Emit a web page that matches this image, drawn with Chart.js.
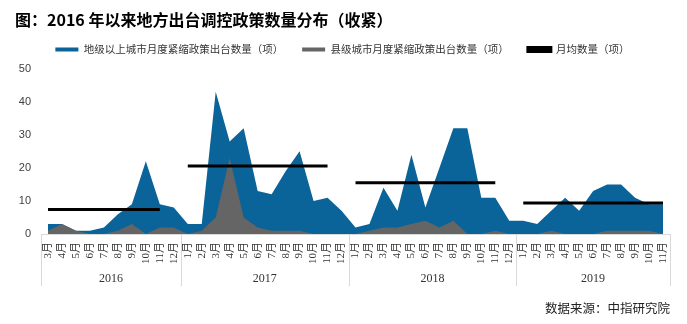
<!DOCTYPE html>
<html>
<head>
<meta charset="utf-8">
<script src="https://cdn.jsdelivr.net/npm/chart.js@4/dist/chart.umd.min.js"></script>
<style>
  html, body { margin: 0; padding: 0; background: #fff; }
  #wrap { width: 687px; height: 324px; }
</style>
</head>
<body>
<div id="wrap"><canvas id="chart" width="687" height="324"></canvas></div>
<script>
// années et mois (axe x à deux niveaux)
const years = ['2016', '2017', '2018', '2019'];
const monthsByYear = [
    ['3月', '4月', '5月', '6月', '7月', '8月', '9月', '10月', '11月', '12月'],
    ['1月', '2月', '3月', '4月', '5月', '6月', '7月', '8月', '9月', '10月', '11月', '12月'],
    ['1月', '2月', '3月', '4月', '5月', '6月', '7月', '8月', '9月', '10月', '11月', '12月'],
    ['1月', '2月', '3月', '4月', '5月', '6月', '7月', '8月', '9月', '10月', '11月']
];

// 地级以上城市
const cityCounts = [
    3, 3, 1, 1, 2, 6, 9, 22, 9, 8,
    3, 3, 43, 28, 32, 13, 12, 19, 25, 10, 11, 7,
    2, 3, 14, 7, 24, 8, 20, 32, 32, 11, 11, 4,
    4, 3, 7, 11, 7, 13, 15, 15, 11, 9, 9
];
// 县级城市
const countyCounts = [
    1, 3, 1, 0, 0, 1, 3, 0, 2, 2,
    0, 1, 5, 23, 5, 2, 1, 1, 1, 0, 0, 0,
    0, 1, 2, 2, 3, 4, 2, 4, 0, 0, 1, 0,
    0, 0, 1, 0, 0, 0, 1, 1, 1, 1, 0
];
// moyenne mensuelle par année
const yearAvg = [7.4, 20.6, 15.5, 9.4];

const yTicks = [0, 10, 20, 30, 40, 50];

const labels = monthsByYear.flat();
const yearOf = monthsByYear.flatMap((m, k) => m.map(() => k));
// la ligne de moyenne s'arrête en novembre
const avgLine = labels.map((m, i) => m === '12月' ? null : yearAvg[yearOf[i]]);

const BLUE = '#0a6399';
const GREY = '#656565';
const cjk = "'Noto Sans CJK SC', sans-serif";
const serif = "'Liberation Serif', 'Noto Sans CJK SC', serif";

// années sous les mois + traits de séparation
const yearAxis = {
    id: 'yearAxis',
    afterDraw(chart) {
        const { ctx, chartArea } = chart;
        const x = chart.scales.x;
        const half = (x.getPixelForValue(1) - x.getPixelForValue(0)) / 2;
        const top = chartArea.bottom;
        ctx.save();
        ctx.strokeStyle = '#d9d9d9';
        ctx.lineWidth = 1;
        ctx.fillStyle = '#333';
        ctx.font = '12px ' + serif;
        ctx.textAlign = 'center';
        ctx.textBaseline = 'middle';
        let start = 0;
        years.forEach((yr, k) => {
            const n = monthsByYear[k].length;
            const l = x.getPixelForValue(start) - half;
            const r = x.getPixelForValue(start + n - 1) + half;
            [l, r].forEach(px => {
                ctx.beginPath();
                ctx.moveTo(Math.round(px) + 0.5, top);
                ctx.lineTo(Math.round(px) + 0.5, top + 52);
                ctx.stroke();
            });
            ctx.fillText(yr, (l + r) / 2, top + 45);
            start += n;
        });
        ctx.restore();
    }
};

// un peu d'espace sous la légende
const legendGap = {
    id: 'legendGap',
    beforeLayout(chart) {
        const lg = chart.legend;
        if (lg && !lg._gap) {
            const fit = lg.fit;
            lg.fit = function () {
                fit.call(this);
                this.height += 4;
            };
            lg._gap = true;
        }
    }
};

new Chart(document.getElementById('chart'), {
    type: 'line',
    data: {
        labels: labels,
        datasets: [
            {
                label: '地级以上城市月度紧缩政策出台数量（项）',
                data: cityCounts,
                backgroundColor: BLUE,
                borderColor: BLUE,
                borderWidth: 0,
                pointRadius: 0,
                fill: 'origin',
                tension: 0,
                order: 2
            },
            {
                label: '县级城市月度紧缩政策出台数量（项）',
                data: countyCounts,
                backgroundColor: GREY,
                borderColor: GREY,
                borderWidth: 0,
                pointRadius: 0,
                fill: 'origin',
                tension: 0,
                order: 1
            },
            {
                label: '月均数量（项）',
                data: avgLine,
                backgroundColor: '#000',
                borderColor: '#000',
                borderWidth: 3,
                borderCapStyle: 'butt',
                pointRadius: 0,
                fill: false,
                spanGaps: false,
                order: 0
            }
        ]
    },
    options: {
        responsive: false,
        animation: false,
        devicePixelRatio: 1,
        layout: { padding: { left: 15, right: 17, top: 0, bottom: 0 } },
        plugins: {
            title: {
                display: true,
                text: '图：2016 年以来地方出台调控政策数量分布（收紧）',
                align: 'start',
                color: '#000',
                font: { family: cjk, size: 16, weight: 'bold' },
                padding: { top: 10, bottom: -4 }
            },
            subtitle: {
                display: true,
                position: 'bottom',
                align: 'end',
                text: '数据来源：中指研究院',
                color: '#222',
                font: { family: cjk, size: 12.5 },
                padding: { top: 6, bottom: 8 }
            },
            legend: {
                labels: {
                    boxWidth: 23,
                    boxHeight: 4,
                    padding: 19,
                    color: '#333',
                    font: { family: cjk, size: 10.5 },
                    sort: (a, b) => a.datasetIndex - b.datasetIndex
                }
            },
            tooltip: { enabled: false }
        },
        scales: {
            x: {
                offset: true,
                grid: { display: false, drawTicks: false, tickLength: 0 },
                border: { display: true, color: '#d9d9d9' },
                ticks: {
                    autoSkip: false,
                    maxRotation: 90,
                    minRotation: 90,
                    padding: 8,
                    color: '#333',
                    font: { family: serif, size: 11 }
                },
                afterFit: s => { s.height = 61; }
            },
            y: {
                min: 0,
                max: 50,
                afterBuildTicks: s => { s.ticks = yTicks.map(v => ({ value: v })); },
                grid: { display: false, drawTicks: false },
                border: { display: false },
                ticks: {
                    padding: 10,
                    color: '#404040',
                    font: { family: "'Liberation Sans', Arial, sans-serif", size: 11 }
                },
                afterFit: s => { s.width = 26; }
            }
        }
    },
    plugins: [yearAxis, legendGap]
});
</script>
</body>
</html>
